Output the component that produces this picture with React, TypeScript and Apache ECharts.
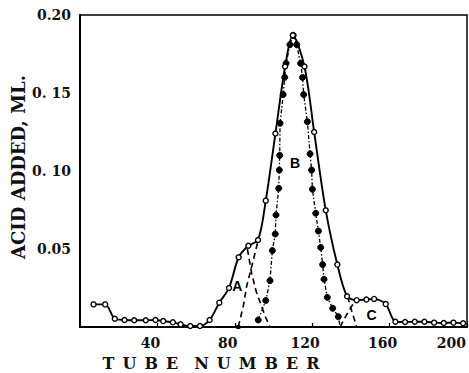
import React, { useEffect, useRef } from "react";
import * as echarts from "echarts";

// Total titration curve (open circles)
const tubeTotal = [7, 13, 18, 23, 28, 34, 39, 43, 48, 52, 57, 62, 67, 72, 77, 82, 87, 92, 96, 101, 106, 110, 116, 121, 127, 133, 138, 143, 148, 152, 158, 163, 168, 173, 178, 183, 188, 193, 198];
const acidTotal = [0.0145, 0.0145, 0.0053, 0.0045, 0.0043, 0.0043, 0.0045, 0.0038, 0.003, 0.0017, 0.0006, 0.0006, 0.0045, 0.0156, 0.025, 0.0447, 0.0521, 0.0558, 0.081, 0.124, 0.167, 0.187, 0.167, 0.125, 0.0748, 0.04, 0.0197, 0.0172, 0.0176, 0.018, 0.0147, 0.0034, 0.0032, 0.0034, 0.0034, 0.0028, 0.0026, 0.0028, 0.0024];

// Component B (filled circles)
const tubeB = [92.1, 96, 98.2, 99.4, 100.9, 101.3, 102.7, 103, 103.2, 103.4, 105, 105.8, 106.5, 108.5, 110.2, 112, 114, 115, 115.6, 117.5, 118.9, 119.7, 120.1, 121.8, 123.2, 124.4, 125.4, 126.1, 127.8, 130.6, 133.5, 134.4];
const acidB = [0.0045, 0.017, 0.0297, 0.049, 0.0596, 0.0718, 0.0889, 0.1006, 0.11, 0.1306, 0.149, 0.16, 0.169, 0.181, 0.187, 0.181, 0.169, 0.16, 0.149, 0.1316, 0.111, 0.1006, 0.0883, 0.0729, 0.0615, 0.051, 0.04, 0.0306, 0.019, 0.012, 0.0066, 0];

// Component A (dashed) – descending flank and rising remainder
const tubeA1 = [86.5, 88.7, 91, 93.9, 96, 98.2];
const acidA1 = [0.05, 0.0344, 0.023, 0.013, 0.006, 0];
const tubeA2 = [81.8, 84.5, 86.1, 89.6, 92.1];
const acidA2 = [0, 0.014, 0.026, 0.043, 0.0558];

// Component C (dashed)
const tubeC1 = [134.4, 136.5, 138.7, 141, 143];
const acidC1 = [0, 0.005, 0.0098, 0.0145, 0.0172];
const tubeC2 = [138.3, 140.5, 143];
const acidC2 = [0.0195, 0.01, 0];

// Peak labels
const peakNames = ["A", "B", "C"];
const peakX = [81.3, 111.1, 150.7];
const peakY = [0.026, 0.105, 0.0077];

// Axis tick labels
const xTickValues = [40, 80, 120, 160, 200];
const yTickValues = [0.05, 0.1, 0.15, 0.2];
const yTickLabels = ["0.05", "0. 10", "0. 15", "0.20"];

const zip = (xs: number[], ys: number[]) => xs.map((x, i) => [x, ys[i]]);

const SERIF = '"DejaVu Serif", "Liberation Serif", serif';

export default function App() {
  const ref = useRef<HTMLDivElement>(null);
  useEffect(() => {
    if (!ref.current) return;
    const chart = echarts.init(ref.current, undefined, { renderer: "svg" });
    const dashed = {
      type: "line",
      showSymbol: false,
      symbol: "none",
      lineStyle: { color: "#000", width: 1.6, type: [6, 4] },
      z: 2,
    };
    const tickFont = { fontFamily: SERIF, fontWeight: "bold", fontSize: 14, color: "#111" };
    chart.setOption({
      animation: false,
      backgroundColor: "#fff",
      grid: {
        left: 80,
        right: 2,
        top: 15,
        bottom: 46,
        containLabel: false,
        outerBoundsMode: "none",
        show: true,
        borderColor: "#000",
        borderWidth: 1.5,
      },
      xAxis: {
        type: "value",
        min: 0,
        max: 200,
        interval: 40,
        axisLine: { show: true, lineStyle: { color: "#000", width: 2 } },
        axisTick: { show: true, inside: true, length: 4, lineStyle: { color: "#000", width: 1.2 } },
        splitLine: { show: false },
        axisLabel: {
          margin: 9,
          ...tickFont,
          lineHeight: 14,
          hideOverlap: false,
          alignMaxLabel: "right",
          rich: {
            a: { ...tickFont, padding: [0, 14, 0, 0] },
            b: { ...tickFont, padding: [0, 1, 0, 0] },
          },
          formatter: (v: number) => {
            if (!xTickValues.includes(v)) return "";
            return v === xTickValues[xTickValues.length - 1] ? `{b|${v}}` : `{a|${v}}`;
          },
        },
      },
      yAxis: {
        type: "value",
        min: 0,
        max: 0.2,
        interval: 0.05,
        axisLine: { show: true, lineStyle: { color: "#000", width: 2 } },
        axisTick: { show: false },
        splitLine: { show: false },
        axisLabel: {
          margin: 9,
          ...tickFont,
          formatter: (v: number) => {
            const i = yTickValues.findIndex((t) => Math.abs(t - v) < 1e-9);
            return i >= 0 ? yTickLabels[i] : "";
          },
        },
      },
      graphic: [
        {
          type: "text",
          x: 211,
          y: 363,
          style: {
            text: "T\u2002U\u2002B\u2002E\u2002\u2002N\u2002U\u2002M\u2002B\u2002E\u2002R",
            fontFamily: SERIF,
            fontWeight: "bold",
            fontSize: 16,
            lineHeight: 16,
            fill: "#111",
            align: "center",
            verticalAlign: "middle",
          },
        },
        {
          type: "text",
          x: 18.5,
          y: 167,
          rotation: Math.PI / 2,
          style: {
            text: "ACID ADDED, ML.",
            fontFamily: SERIF,
            fontWeight: "bold",
            fontSize: 18,
            lineHeight: 18,
            fill: "#111",
            align: "center",
            verticalAlign: "middle",
          },
        },
      ],
      series: [
        { ...dashed, data: zip(tubeA1, acidA1) },
        {
          ...dashed,
          data: zip(tubeA2, acidA2).map((p, i) =>
            i === 0 ? { value: p, symbol: "rect", symbolSize: 4, itemStyle: { color: "#000" } } : p
          ),
          showSymbol: true,
          symbol: "none",
        },
        { ...dashed, data: zip(tubeC1, acidC1) },
        { ...dashed, data: zip(tubeC2, acidC2) },
        {
          type: "line",
          data: zip(tubeB, acidB).map((p, i, arr) =>
            i === arr.length - 1 ? { value: p, symbol: "none" } : p
          ),
          symbol: "circle",
          symbolSize: 6,
          itemStyle: { color: "#000", borderColor: "#000" },
          lineStyle: { color: "#000", width: 1.3, type: [4, 2, 1.5, 2] },
          z: 3,
        },
        {
          type: "line",
          data: zip(tubeTotal, acidTotal),
          smooth: 0.3,
          symbol: "circle",
          symbolSize: 5,
          itemStyle: { color: "#fff", borderColor: "#000", borderWidth: 1.4 },
          lineStyle: { color: "#000", width: 1.9 },
          z: 4,
        },
        {
          type: "scatter",
          data: peakNames.map((n, i) => ({ name: n, value: [peakX[i], peakY[i]] })),
          symbolSize: 0,
          itemStyle: { opacity: 1 },
          label: {
            show: true,
            position: "inside",
            formatter: (p: any) => p.name,
            fontFamily: '"Liberation Sans", Arial, sans-serif',
            fontWeight: "bold",
            fontSize: 14,
            color: "#000",
            opacity: 1,
          },
          z: 5,
        },
      ],
    });
    return () => chart.dispose();
  }, []);
  return <div ref={ref} style={{ width: 469, height: 373, position: "absolute", left: 0, top: 0 }} />;
}
